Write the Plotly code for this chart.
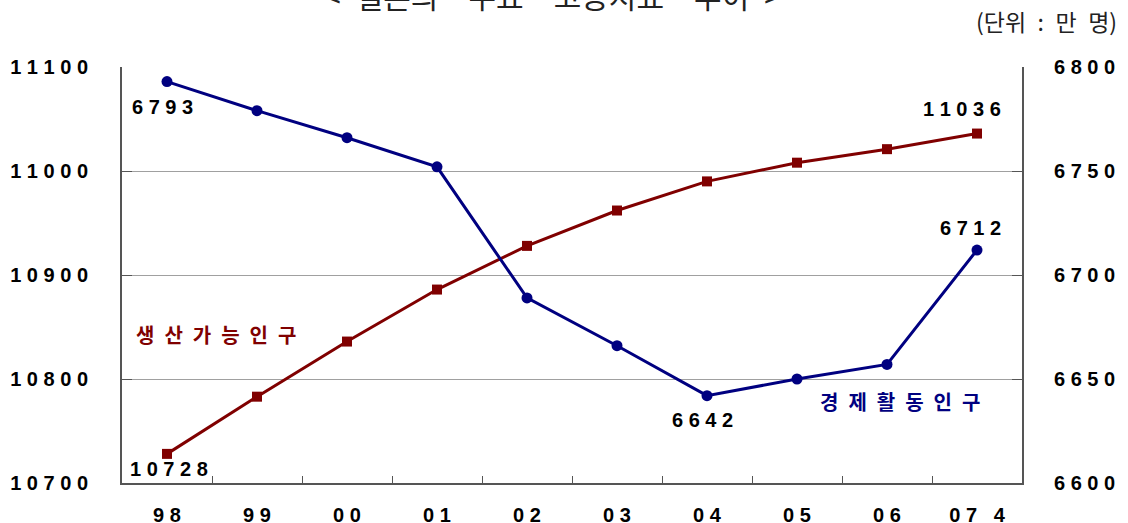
import plotly.graph_objects as go

years = ["98", "99", "00", "01", "02", "03", "04", "05", "06", "07 4"]
working_age = [10728, 10783, 10836, 10886, 10928, 10962, 10990, 11008, 11021, 11036]
labor_force = [6793, 6779, 6766, 6752, 6689, 6666, 6642, 6650, 6657, 6712]
left_ticks = [10700, 10800, 10900, 11000, 11100]
right_ticks = [6600, 6650, 6700, 6750, 6800]

RED = "#800000"
BLUE = "#000080"
NUM_FONT = "Liberation Sans"
KR_FONT = "Noto Sans CJK KR"

def sp(s, sep=" "):
    return sep.join(list(s))

idx = list(range(len(years)))

fig = go.Figure()
fig.add_trace(go.Scatter(x=idx, y=working_age, mode="lines+markers", yaxis="y",
                         line=dict(color=RED, width=3),
                         marker=dict(symbol="square", size=10, color=RED),
                         showlegend=False, cliponaxis=False))
fig.add_trace(go.Scatter(x=idx, y=labor_force, mode="lines+markers", yaxis="y2",
                         line=dict(color=BLUE, width=3),
                         marker=dict(symbol="circle", size=11, color=BLUE),
                         showlegend=False, cliponaxis=False))

numfont = dict(family=NUM_FONT, size=20, color="black", weight="bold")

ann = []
# value labels
ann.append(dict(x=0, y=labor_force[0], yref="y2", text=sp(str(labor_force[0])),
                showarrow=False, yshift=-25, xshift=-5, font=numfont))
ann.append(dict(x=0, y=working_age[0], yref="y", text=sp(str(working_age[0])),
                showarrow=False, yshift=-15, xshift=2, font=numfont))
ann.append(dict(x=9, y=working_age[-1], yref="y", text=sp(str(working_age[-1])),
                showarrow=False, yshift=25, xshift=-15, font=numfont))
ann.append(dict(x=9, y=labor_force[-1], yref="y2", text=sp(str(labor_force[-1])),
                showarrow=False, yshift=22, xshift=-7, font=numfont))
ann.append(dict(x=6, y=labor_force[6], yref="y2", text=sp(str(labor_force[6])),
                showarrow=False, yshift=-24, xshift=-5, font=numfont))

W, H = 1128, 523
L, R, T, B = 122, 106, 67, 40
pw, ph = W - L - R, H - T - B

def px(x, y):
    return (x - L) / pw, (H - B - y) / ph

# series labels
x1, y1 = px(216, 334)
ann.append(dict(x=x1, y=y1, xref="paper", yref="paper", xanchor="center", yanchor="middle",
                text="\u2002".join("생산가능인구"), showarrow=False,
                font=dict(family=KR_FONT, size=20, color=RED, weight="bold")))
x2, y2 = px(900, 401)
ann.append(dict(x=x2, y=y2, xref="paper", yref="paper", xanchor="center", yanchor="middle",
                text="\u2002".join("경제활동인구"), showarrow=False,
                font=dict(family=KR_FONT, size=20, color=BLUE, weight="bold")))
# unit & title
ann.append(dict(x=1, y=1, xref="paper", yref="paper", xanchor="right", yanchor="middle",
                xshift=97, yshift=46, text="(단위\u2002:\u2002만\u2002명)", showarrow=False,
                font=dict(family=KR_FONT, size=23, color="#222222")))
ann.append(dict(x=px(552, 0)[0], y=1, xref="paper", yref="paper", xanchor="center", yanchor="bottom",
                yshift=48, text="<\u2002일본의\u2002\u2002주요\u2002\u2002고용지표\u2002\u2002추이\u2002>",
                showarrow=False, font=dict(family=KR_FONT, size=30, color="#222222")))

fig.update_layout(
    width=W, height=H,
    margin=dict(l=L, r=R, t=T, b=B, autoexpand=False),
    paper_bgcolor="white", plot_bgcolor="white",
    annotations=ann,
    xaxis=dict(tickmode="array", tickvals=idx, ticktext=[sp(y) for y in years],
               ticks="", showline=True, linecolor="#555555", linewidth=2,
               showgrid=False, zeroline=False,
               tickfont=numfont, ticklabelstandoff=13, range=[-0.5, 9.5], automargin=False),
    xaxis2=dict(overlaying="x", tickmode="array", tickvals=[i + 0.5 for i in idx[:-1]],
                ticktext=["" for _ in idx[:-1]], ticks="inside", ticklen=7,
                tickcolor="#555555", tickwidth=1, side="bottom", showline=False,
                showgrid=False, zeroline=False, range=[-0.5, 9.5], automargin=False),
    yaxis=dict(range=[10700, 11100], tickvals=left_ticks,
               ticktext=[sp(str(v)) for v in left_ticks],
               ticks="inside", ticklen=10, tickcolor="#555555",
               showline=True, linecolor="#555555", linewidth=2,
               showgrid=True, gridcolor="#a0a0a0", gridwidth=1,
               zeroline=False, tickfont=numfont, ticklabelstandoff=28, automargin=False),
    yaxis2=dict(range=[6600, 6800], tickvals=right_ticks,
                ticktext=[sp(str(v)) for v in right_ticks],
                overlaying="y", side="right",
                ticks="inside", ticklen=10, tickcolor="#555555",
                showline=True, linecolor="#555555", linewidth=2,
                showgrid=False, zeroline=False, tickfont=numfont, ticklabelstandoff=26,
                automargin=False),
)
# invisible trace to activate the boundary-tick axis
fig.add_trace(go.Scatter(x=[0], y=[10700], xaxis="x2", yaxis="y", mode="markers",
                         marker=dict(opacity=0), showlegend=False, hoverinfo="skip"))

fig.write_html("out.html", config={"displayModeBar": False},
               post_script="document.body.style.margin='0';")
